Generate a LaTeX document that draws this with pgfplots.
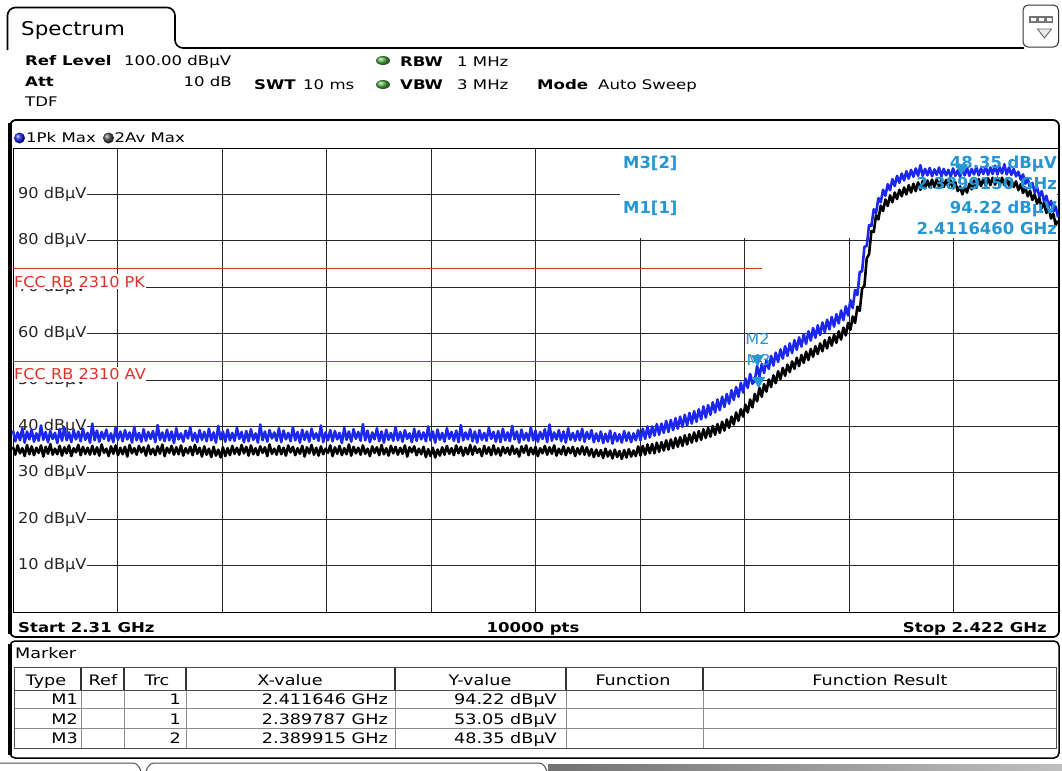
\documentclass[border=0pt]{standalone}
\usepackage{pgfplots}
\pgfplotsset{compat=1.18}
\usepackage{pgfplotstable}
\usepackage{fontspec}
\setmainfont{DejaVu Sans}
\newfontfamily\hfont{DejaVu Sans}[FakeStretch=1.25]
\newfontfamily\tfont{DejaVu Sans}[FakeStretch=1.22]
\newfontfamily\kfont{DejaVu Sans}[FakeStretch=1.08]
\newfontfamily\sfont{DejaVu Sans}[FakeStretch=1.13]

\definecolor{pkblue}{RGB}{28,40,240}
\definecolor{mkblue}{RGB}{36,150,210}
\definecolor{limred}{RGB}{220,50,40}
\definecolor{gridc}{RGB}{40,40,40}
\definecolor{ledgreen}{RGB}{80,170,70}

% Trace 1 (Pk Max) and trace 2 (Av Max), frequency in MHz, level in dBuV
\pgfplotstableread{
f pk av
2310.00 39.1 35.6
2310.25 36.8 33.9
2310.50 38.7 35.9
2310.75 37.0 34.2
2311.00 39.6 35.3
2311.25 36.5 33.6
2311.50 38.9 36.0
2311.75 37.2 34.0
2312.00 39.3 35.7
2312.25 36.7 33.8
2312.50 38.5 35.4
2312.75 36.9 34.3
2313.00 40.2 35.9
2313.25 37.1 33.5
2313.50 38.8 35.6
2313.75 36.6 34.1
2314.00 39.0 36.2
2314.25 37.3 33.9
2314.50 38.6 35.2
2314.75 36.4 34.0
2315.00 39.4 35.8
2315.25 36.9 33.7
2315.50 39.8 35.5
2315.75 37.0 34.2
2316.00 38.7 35.9
2316.25 36.6 33.6
2316.50 39.2 35.3
2316.75 37.2 34.4
2317.00 38.9 36.0
2317.25 36.8 33.8
2317.50 39.5 35.6
2317.75 37.1 34.1
2318.00 38.6 35.4
2318.25 36.5 33.9
2318.50 40.6 35.8
2318.75 37.0 34.0
2319.00 39.1 35.5
2319.25 36.7 33.7
2319.50 38.8 36.1
2319.75 37.3 34.3
2320.00 39.3 35.2
2320.25 36.9 33.6
2320.50 38.5 35.7
2320.75 36.6 34.1
2321.00 39.7 35.9
2321.25 37.1 33.8
2321.50 38.9 35.4
2321.75 36.8 34.0
2322.00 39.2 35.6
2322.25 37.2 33.5
2322.50 38.7 36.0
2322.75 36.5 34.2
2323.00 39.9 35.3
2323.25 37.0 33.9
2323.50 38.6 35.8
2323.75 36.7 34.4
2324.00 39.4 35.5
2324.25 36.9 33.7
2324.50 38.8 35.9
2324.75 37.3 34.0
2325.00 39.0 35.2
2325.25 36.6 33.8
2325.50 40.3 35.7
2325.75 37.1 34.1
2326.00 38.7 36.1
2326.25 36.8 33.6
2326.50 39.3 35.4
2326.75 37.0 34.3
2327.00 38.9 35.8
2327.25 36.4 33.9
2327.50 39.6 35.5
2327.75 37.2 34.0
2328.00 38.5 35.9
2328.25 36.7 33.7
2328.50 39.1 35.3
2328.75 37.4 34.2
2329.00 39.8 35.6
2329.25 36.9 33.8
2329.50 38.6 36.0
2329.75 36.6 34.1
2330.00 39.2 35.4
2330.25 37.1 33.5
2330.50 38.8 35.7
2330.75 36.8 33.9
2331.00 39.5 35.2
2331.25 37.0 33.4
2331.50 38.7 35.6
2331.75 36.5 33.7
2332.00 40.1 35.0
2332.25 37.2 33.3
2332.50 38.9 35.5
2332.75 36.7 33.6
2333.00 39.3 35.3
2333.25 37.0 33.8
2333.50 38.6 35.8
2333.75 36.9 34.1
2334.00 39.7 35.4
2334.25 37.3 33.9
2334.50 38.8 36.0
2334.75 36.6 34.2
2335.00 39.0 35.6
2335.25 36.8 33.7
2335.50 39.4 35.9
2335.75 37.1 34.0
2336.00 38.5 35.3
2336.25 36.5 33.8
2336.50 40.4 35.7
2336.75 37.0 34.3
2337.00 38.9 35.5
2337.25 36.7 33.6
2337.50 39.2 36.1
2337.75 37.4 34.1
2338.00 38.7 35.2
2338.25 36.9 33.9
2338.50 39.6 35.8
2338.75 36.6 34.0
2339.00 39.1 35.4
2339.25 37.2 33.7
2339.50 38.6 35.9
2339.75 36.8 34.4
2340.00 39.8 35.6
2340.25 37.0 33.8
2340.50 38.8 35.3
2340.75 36.5 34.1
2341.00 39.3 35.8
2341.25 37.1 33.5
2341.50 38.9 35.5
2341.75 36.7 34.2
2342.00 39.5 36.0
2342.25 37.3 33.9
2342.50 38.5 35.4
2342.75 36.9 33.7
2343.00 40.2 35.7
2343.25 36.6 34.0
2343.50 38.7 35.2
2343.75 37.0 34.3
2344.00 39.2 35.9
2344.25 36.8 33.6
2344.50 39.0 35.5
2344.75 37.2 34.1
2345.00 38.6 35.8
2345.25 36.4 33.8
2345.50 39.7 35.3
2345.75 37.1 34.0
2346.00 38.9 36.1
2346.25 36.7 33.7
2346.50 39.4 35.6
2346.75 37.3 34.2
2347.00 38.8 35.4
2347.25 36.9 33.9
2347.50 40.5 35.9
2347.75 37.0 34.1
2348.00 39.1 35.2
2348.25 36.6 33.6
2348.50 38.7 35.7
2348.75 37.2 34.3
2349.00 39.6 35.5
2349.25 36.8 33.8
2349.50 38.9 36.0
2349.75 36.5 34.0
2350.00 39.3 35.3
2350.25 37.1 33.7
2350.50 38.6 35.8
2350.75 36.9 34.2
2351.00 39.9 35.6
2351.25 37.0 33.9
2351.50 38.8 35.4
2351.75 36.7 34.1
2352.00 39.2 35.9
2352.25 37.3 33.5
2352.50 38.5 35.5
2352.75 36.6 34.4
2353.00 39.5 35.7
2353.25 36.9 33.8
2353.50 39.0 35.2
2353.75 37.2 34.0
2354.00 38.7 35.6
2354.25 36.8 33.4
2354.50 40.0 35.1
2354.75 37.0 33.6
2355.00 38.9 35.4
2355.25 36.5 33.3
2355.50 39.3 35.0
2355.75 37.1 33.7
2356.00 38.6 35.5
2356.25 36.7 33.9
2356.50 39.6 35.8
2356.75 37.3 34.1
2357.00 38.8 35.3
2357.25 36.9 33.8
2357.50 39.1 35.9
2357.75 36.6 34.2
2358.00 40.3 35.6
2358.25 37.0 33.7
2358.50 38.7 35.4
2358.75 37.2 34.0
2359.00 39.4 36.0
2359.25 36.8 33.9
2359.50 38.9 35.7
2359.75 36.5 34.3
2360.00 39.2 35.2
2360.25 37.1 33.6
2360.50 38.6 35.8
2360.75 36.9 34.1
2361.00 39.7 35.5
2361.25 37.3 33.8
2361.50 38.8 35.9
2361.75 36.7 34.0
2362.00 39.0 35.3
2362.25 36.6 33.7
2362.50 39.5 35.6
2362.75 37.0 34.2
2363.00 38.7 35.4
2363.25 36.8 33.9
2363.50 40.1 35.8
2363.75 37.2 34.1
2364.00 38.9 35.2
2364.25 36.5 33.5
2364.50 39.3 35.7
2364.75 37.1 34.3
2365.00 38.6 35.9
2365.25 36.9 33.8
2365.50 39.8 35.4
2365.75 37.0 34.0
2366.00 39.1 35.6
2366.25 36.7 33.6
2366.50 38.8 35.3
2366.75 37.3 34.2
2367.00 39.4 35.8
2367.25 36.6 33.9
2367.50 40.4 35.5
2367.75 36.9 34.1
2368.00 38.7 35.9
2368.25 37.2 33.7
2368.50 39.2 35.2
2368.75 36.8 34.0
2369.00 38.9 35.7
2369.25 36.5 33.8
2369.50 39.6 35.4
2369.75 37.1 34.2
2370.00 38.6 35.6
2370.25 36.9 33.6
2370.50 39.0 35.3
2370.75 37.0 34.0
2371.00 39.5 35.7
2371.25 36.7 33.9
2371.50 38.8 35.5
2371.75 37.3 33.7
2372.00 39.2 35.1
2372.25 36.6 33.4
2372.50 38.5 35.0
2372.75 36.8 33.6
2373.00 38.9 34.9
2373.25 36.4 33.2
2373.50 38.4 35.2
2373.75 36.7 33.5
2374.00 39.1 34.8
2374.25 36.3 33.1
2374.50 38.6 35.0
2374.75 36.8 33.4
2375.00 38.3 34.7
2375.25 36.5 33.0
2375.50 39.0 34.9
2375.75 36.9 33.3
2376.00 38.7 35.1
2376.25 36.6 33.5
2376.50 38.5 34.8
2376.75 37.0 33.6
2377.00 39.2 35.7
2377.25 37.0 33.7
2377.50 39.5 35.8
2377.75 37.3 33.9
2378.00 40.0 36.1
2378.25 37.6 34.2
2378.50 40.0 36.2
2378.75 38.0 34.2
2379.00 40.5 36.5
2379.25 38.2 34.5
2379.50 40.6 36.6
2379.75 38.6 34.8
2380.00 41.2 37.0
2380.25 38.8 35.0
2380.50 41.4 37.2
2380.75 39.2 35.3
2381.00 41.8 37.5
2381.25 39.5 35.6
2381.50 42.1 37.7
2381.75 39.9 35.8
2382.00 42.5 38.1
2382.25 40.2 36.1
2382.50 42.9 38.3
2382.75 40.6 36.5
2383.00 43.3 38.7
2383.25 41.0 36.8
2383.50 43.7 39.0
2383.75 41.5 37.1
2384.00 44.3 39.4
2384.25 41.9 37.5
2384.50 44.6 39.7
2384.75 42.5 37.8
2385.00 45.2 40.1
2385.25 43.0 38.2
2385.50 45.8 40.5
2385.75 43.5 38.6
2386.00 46.4 41.0
2386.25 44.2 39.1
2386.50 47.0 41.5
2386.75 44.9 39.7
2387.00 47.8 42.1
2387.25 45.7 40.4
2387.50 48.5 43.0
2387.75 46.4 41.2
2388.00 49.4 43.7
2388.25 47.3 42.1
2388.50 50.3 44.7
2388.75 48.3 43.0
2389.00 51.3 45.8
2389.25 49.2 44.1
2389.50 49.8 47.0
2389.75 53.05 45.4
2390.00 50.7 48.35
2390.25 53.5 46.4
2390.50 51.5 49.1
2390.75 54.3 47.5
2391.00 52.4 50.1
2391.25 55.2 48.5
2391.50 53.1 51.0
2391.75 55.9 49.3
2392.00 53.9 51.9
2392.25 56.6 50.2
2392.50 54.6 52.6
2392.75 57.3 50.9
2393.00 55.2 53.3
2393.25 57.9 51.7
2393.50 55.8 54.0
2393.75 58.6 52.4
2394.00 56.5 54.8
2394.25 59.2 53.0
2394.50 57.2 55.4
2394.75 59.9 53.7
2395.00 57.8 56.1
2395.25 60.5 54.3
2395.50 58.5 56.7
2395.75 61.2 55.0
2396.00 59.1 57.3
2396.25 61.8 55.6
2396.50 59.7 57.9
2396.75 62.4 56.2
2397.00 60.3 58.6
2397.25 63.0 56.8
2397.50 60.9 59.2
2397.75 63.6 57.4
2398.00 61.5 59.8
2398.25 64.2 58.0
2398.50 62.2 60.5
2398.75 65.0 58.7
2399.00 62.9 61.3
2399.25 65.9 59.6
2399.50 63.9 62.3
2399.75 67.2 60.8
2400.00 65.5 63.7
2400.25 69.4 62.3
2400.50 68.3 65.8
2400.75 73.3 64.9
2401.00 73.4 69.7
2401.25 78.7 70.3
2401.50 78.9 76.2
2401.75 83.4 77.1
2402.00 83.2 82.1
2402.25 86.8 81.9
2402.50 86.0 85.5
2402.75 89.2 84.6
2403.00 88.3 87.6
2403.25 91.0 86.4
2403.50 89.7 88.9
2403.75 92.2 87.5
2404.00 90.9 89.8
2404.25 93.3 88.3
2404.50 91.8 90.4
2404.75 94.0 89.0
2405.00 92.5 91.0
2405.25 94.5 89.6
2405.50 93.0 91.5
2405.75 95.0 90.0
2406.00 93.4 92.0
2406.25 95.3 90.4
2406.50 93.8 92.3
2406.75 95.6 90.7
2407.00 94.0 92.6
2407.25 96.3 91.0
2407.50 94.0 92.9
2407.75 95.5 91.3
2408.00 94.1 93.0
2408.25 95.7 91.5
2408.50 93.9 93.2
2408.75 95.4 91.6
2409.00 94.2 93.3
2409.25 95.8 91.7
2409.50 93.9 93.2
2409.75 95.5 91.6
2410.00 94.1 93.1
2410.25 95.3 91.7
2410.50 93.8 93.0
2410.75 95.6 91.3
2411.00 94.0 92.6
2411.25 95.2 90.7
2411.50 93.8 91.7
2411.75 95.4 90.0
2412.00 94.1 91.6
2412.25 95.7 90.4
2412.50 94.0 92.3
2412.75 95.5 91.1
2413.00 94.3 93.0
2413.25 95.9 91.4
2413.50 94.1 93.3
2413.75 95.6 91.8
2414.00 94.4 93.4
2414.25 96.0 91.9
2414.50 94.2 93.5
2414.75 95.8 92.0
2415.00 94.4 93.6
2415.25 96.2 92.1
2415.50 94.3 93.6
2415.75 95.9 92.0
2416.00 94.5 93.6
2416.25 96.5 92.0
2416.50 94.3 93.4
2416.75 95.8 91.9
2417.00 94.2 93.2
2417.25 95.5 91.6
2417.50 93.9 92.8
2417.75 94.9 90.9
2418.00 93.2 92.2
2418.25 94.3 90.3
2418.50 92.3 91.5
2418.75 93.4 89.6
2419.00 91.4 90.8
2419.25 92.5 88.8
2419.50 90.4 90.0
2419.75 91.6 88.0
2420.00 89.5 89.2
2420.25 90.7 87.0
2420.50 88.5 88.2
2420.75 89.7 86.0
2421.00 87.5 87.2
2421.25 88.6 84.8
2421.50 86.3 85.8
2421.75 87.4 83.4
2422.00 85.1 84.3
}\spectrum

\tikzset{
  hdr/.style={inner sep=0pt, font=\hfont\fontsize{13.3}{16}\selectfont},
  hdrb/.style={inner sep=0pt, font=\hfont\bfseries\fontsize{13.3}{16}\selectfont},
  tbl/.style={inner sep=0pt, font=\tfont\fontsize{14.5}{17}\selectfont},
  tblb/.style={inner sep=0pt, font=\tfont\bfseries\fontsize{13.6}{16}\selectfont},
  mk/.style={inner sep=0pt, text=mkblue, font=\bfseries\fontsize{16.5}{18}\selectfont},
  ylab/.style={anchor=west, xshift=1.2bp, fill=white, inner xsep=0.3bp, inner ysep=0.5bp,
    text=black!85, font=\kfont\fontsize{15}{17}\selectfont},
  limlab/.style={anchor=base west, xshift=0.5bp, yshift=-18.5bp, fill=white, inner xsep=0.5bp, inner ysep=2bp,
    text=limred, font=\kfont\fontsize{15}{17}\selectfont},
}

\begin{document}
\begin{tikzpicture}
\useasboundingbox (0,0) rectangle (1062bp,-771bp);
\fill[white] (0,0) rectangle (1062bp,-771bp);

\begin{scope}[x=1bp,y=-1bp]
  % title tab and top rule
  \draw[line width=1.6bp, rounded corners=8bp] (7.5,50) -- (7.5,7.5) -- (175,7.5) -- (175,48) -- (1024,48);
  \node[anchor=base west, inner sep=0pt, font=\sfont\fontsize{19}{22}\selectfont] at (21,35.5) {Spectrum};
  % menu button
  \draw[line width=1bp, rounded corners=5bp, black!80] (1023,5) rectangle (1058.5,47);
  \fill[black!55] (1029,16) rectangle (1053,23);
  \fill[white] (1031,18) rectangle (1036,21) (1039,18) rectangle (1044,21) (1047,18) rectangle (1051.5,21);
  \draw[black!60, line width=0.9bp, fill=black!8] (1037.5,29) -- (1051.5,29) -- (1044.5,38) -- cycle;

  % instrument settings
  \node[hdrb, anchor=base west] at (25,65.5) {Ref Level};
  \node[hdr, anchor=base west] at (124,65.5) {100.00 dBµV};
  \node[hdrb, anchor=base west] at (25,86.5) {Att};
  \node[hdr, anchor=base east] at (232,86.5) {10 dB};
  \node[hdr, anchor=base west] at (25,106.5) {TDF};
  \node[hdrb, anchor=base west] at (254,89) {SWT};
  \node[hdr, anchor=base west] at (303,89) {10 ms};
  \shade[ball color=ledgreen] (383,60.5) ellipse (7bp and 4.5bp);
  \shade[ball color=ledgreen] (383,84.5) ellipse (7bp and 4.5bp);
  \node[hdrb, anchor=base west] at (400,66) {RBW};
  \node[hdr, anchor=base west] at (457,66) {1 MHz};
  \node[hdrb, anchor=base west] at (400,89) {VBW};
  \node[hdr, anchor=base west] at (457,89) {3 MHz};
  \node[hdrb, anchor=base west] at (537,89) {Mode};
  \node[hdr, anchor=base west] at (598,89) {Auto Sweep};

  % diagram frame
  \draw[line width=1.8bp, rounded corners=6bp] (10,120) rectangle (1059,637);
  \fill (8.2,123) rectangle (11.8,634);
  % trace legend
  \shade[ball color=pkblue] (19.5,138) circle (5.5bp);
  \node[hdr, anchor=base west] at (26,142.5) {1Pk Max};
  \shade[ball color=black!70] (108.5,138) circle (5.5bp);
  \node[hdr, anchor=base west] at (114.5,142.5) {2Av Max};

  % sweep information
  \node[tblb, anchor=base west] at (18,632) {Start 2.31 GHz};
  \node[tblb, anchor=base] at (533,632) {10000 pts};
  \node[tblb, anchor=base east] at (1047,632) {Stop 2.422 GHz};

  % marker table panel
  \draw[line width=1.5bp, rounded corners=5bp] (10,641) rectangle (1059,758);
  \fill (8.2,644) rectangle (11.8,755);
  \node[tbl, anchor=base west] at (15,658) {Marker};
  \draw[black!45, line width=0.7bp] (14,708) -- (1056,708) (14,728) -- (1056,728);
  \draw[black!45, line width=0.7bp] (81,690) -- (81,748) (124,690) -- (124,748) (186,690) -- (186,748)
     (395,690) -- (395,748) (566,690) -- (566,748) (703,690) -- (703,748);
  \draw[black!80, line width=1.2bp] (81,668) -- (81,690) (124,668) -- (124,690) (186,668) -- (186,690)
     (395,668) -- (395,690) (566,668) -- (566,690) (703,668) -- (703,690);
  \draw[black!70, line width=0.9bp] (14,667.5) rectangle (1056,748);
  \draw[black!70, line width=0.9bp] (14,690) -- (1056,690);
  \node[tbl, anchor=base] at (46,685) {Type};
  \node[tbl, anchor=base] at (103,685) {Ref};
  \node[tbl, anchor=base] at (157,685) {Trc};
  \node[tbl, anchor=base] at (290,685) {X-value};
  \node[tbl, anchor=base] at (480,685) {Y-value};
  \node[tbl, anchor=base] at (633,685) {Function};
  \node[tbl, anchor=base] at (880,685) {Function Result};
  \node[tbl, anchor=base east] at (78,704.5) {M1};
  \node[tbl, anchor=base east] at (181,704.5) {1};
  \node[tbl, anchor=base east] at (388,704.5) {2.411646 GHz};
  \node[tbl, anchor=base east] at (557,704.5) {94.22 dBµV};
  \node[tbl, anchor=base east] at (78,724) {M2};
  \node[tbl, anchor=base east] at (181,724) {1};
  \node[tbl, anchor=base east] at (388,724) {2.389787 GHz};
  \node[tbl, anchor=base east] at (557,724) {53.05 dBµV};
  \node[tbl, anchor=base east] at (78,743.5) {M3};
  \node[tbl, anchor=base east] at (181,743.5) {2};
  \node[tbl, anchor=base east] at (388,743.5) {2.389915 GHz};
  \node[tbl, anchor=base east] at (557,743.5) {48.35 dBµV};

  % softkey tabs along the bottom edge
  \draw[black!70, line width=1bp, rounded corners=4bp] (0,763) -- (137,763) -- (141,771);
  \draw[black!70, line width=1bp, rounded corners=4bp] (146,771) -- (150,763) -- (543,763) -- (547,771);
  \shade[left color=black!55, right color=black!25] (548,764) rectangle (1062,771);
\end{scope}

\begin{axis}[
  at={(13bp,-612bp)}, anchor=south west,
  width=1045bp, height=464bp, scale only axis,
  xmin=2310, xmax=2422, ymin=0, ymax=100,
  xtick={2321.2,2332.4,2343.6,2354.8,2366.0,2377.2,2388.4,2399.6,2410.8},
  ytick={10,20,30,40,50,60,70,80,90},
  xticklabels={}, yticklabels={},
  major tick length=0pt,
  grid=major,
  grid style={gridc, line width=0.7bp},
  axis line style={black, line width=0.9bp},
  clip=false,
]
  % marker readout area keeps the grid clear
  \fill[white] (axis cs:2375.1,80.7) rectangle (axis cs:2421.85,99.85);

  % level labels on the grid
  \pgfplotsinvokeforeach{10,20,30,40,50,60,70,80,90}{
    \node[ylab] at (axis cs:2310,#1) {\hspace*{3.5bp}#1 dBµV};
  }

  % limit lines
  \addplot[limred, line width=0.9bp] coordinates {(2310,74) (2390.3,74)};
  \addplot[limred, line width=0.9bp] coordinates {(2310,54) (2390.3,54)};
  \node[limlab] at (axis cs:2310,74) {FCC RB 2310 PK};
  \node[limlab] at (axis cs:2310,54) {FCC RB 2310 AV};

  % traces
  \addplot[pkblue, line width=2.6bp, line join=round] table[x=f, y=pk] {\spectrum};
  \addplot[black, line width=2.6bp, line join=round] table[x=f, y=av] {\spectrum};

  % markers
  \addplot[only marks, mark=triangle*, mark size=7bp, color=mkblue,
    mark options={yshift=7bp, rotate=180},
    point meta=explicit symbolic, nodes near coords,
    every node near coord/.append style={anchor=south, yshift=14.5bp, inner sep=0pt,
      text=mkblue, font=\kfont\fontsize{15}{17}\selectfont}]
    coordinates {(2389.787,53.05) [M2] (2389.915,48.35) [M3]};
  \addplot[only marks, mark=triangle*, mark size=7bp, color=mkblue,
    mark options={yshift=7bp, rotate=180}]
    coordinates {(2411.646,94.22)};
\end{axis}

\begin{scope}[x=1bp,y=-1bp]
  % marker readout
  \node[mk, anchor=base west] at (623,168) {M3[2]};
  \node[mk, anchor=base east] at (1057,168) {48.35 dBµV};
  \node[mk, anchor=base east] at (1057,189.5) {2.3899150 GHz};
  \node[mk, anchor=base west] at (623,213) {M1[1]};
  \node[mk, anchor=base east] at (1057,213) {94.22 dBµV};
  \node[mk, anchor=base east] at (1057,234.5) {2.4116460 GHz};
\end{scope}
\end{tikzpicture}
\end{document}
